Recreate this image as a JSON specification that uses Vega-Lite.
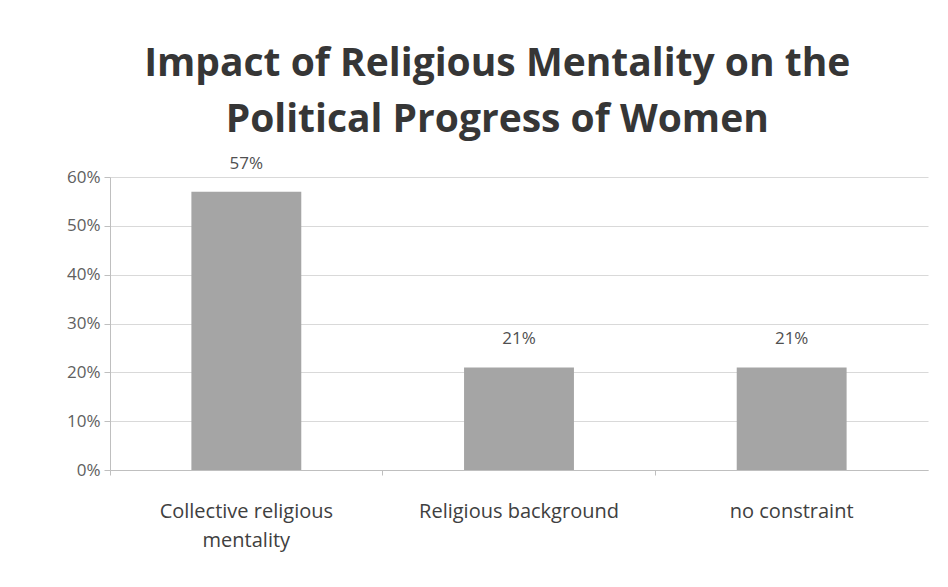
{
  "$schema": "https://vega.github.io/schema/vega-lite/v6.json",
  "width": 818,
  "height": 293,
  "autosize": {"type": "none"},
  "padding": {"left": 110, "top": 177, "right": 20, "bottom": 117},
  "background": "#ffffff",
  "title": {
    "text": ["Impact of Religious Mentality on the", "Political Progress of Women"],
    "font": "Open Sans",
    "fontSize": 39,
    "fontWeight": "bold",
    "color": "#363636",
    "lineHeight": 56,
    "anchor": "middle",
    "frame": "bounds",
    "offset": 15
  },
  "config": {
    "view": {"stroke": null},
    "font": "Open Sans"
  },
  "data": {
    "values": [
      {"category": "Collective religious mentality", "value": 0.57},
      {"category": "Religious background", "value": 0.21},
      {"category": "no constraint", "value": 0.21}
    ]
  },
  "encoding": {
    "x": {
      "field": "category",
      "type": "nominal",
      "sort": null,
      "scale": {"paddingInner": 0, "paddingOuter": 0},
      "axis": {
        "title": null,
        "labelAngle": 0,
        "labelFontSize": 20,
        "labelColor": "#404040",
        "labelLineHeight": 29,
        "labelPadding": 26,
        "labelLimit": 400,
        "bandPosition": 0,
        "ticks": true,
        "tickSize": 5,
        "tickColor": "#bfbfbf",
        "domainColor": "#bfbfbf",
        "labelExpr": "datum.label == 'Collective religious mentality' ? ['Collective religious', 'mentality'] : datum.label"
      }
    },
    "y": {
      "field": "value",
      "type": "quantitative",
      "scale": {"domain": [0, 0.6], "nice": false},
      "axis": {
        "title": null,
        "values": [0, 0.1, 0.2, 0.3, 0.4, 0.5, 0.6],
        "format": ".0%",
        "labelFontSize": 17,
        "labelColor": "#606060",
        "labelPadding": 4,
        "tickSize": 6,
        "tickColor": "#bfbfbf",
        "domainColor": "#bfbfbf",
        "gridColor": "#d9d9d9",
        "grid": true
      }
    }
  },
  "layer": [
    {
      "mark": {"type": "bar", "color": "#a5a5a5", "width": {"band": 0.403}}
    },
    {
      "mark": {"type": "text", "dy": -28, "fontSize": 17, "color": "#505050"},
      "encoding": {
        "text": {"field": "value", "type": "quantitative", "format": ".0%"}
      }
    }
  ]
}
